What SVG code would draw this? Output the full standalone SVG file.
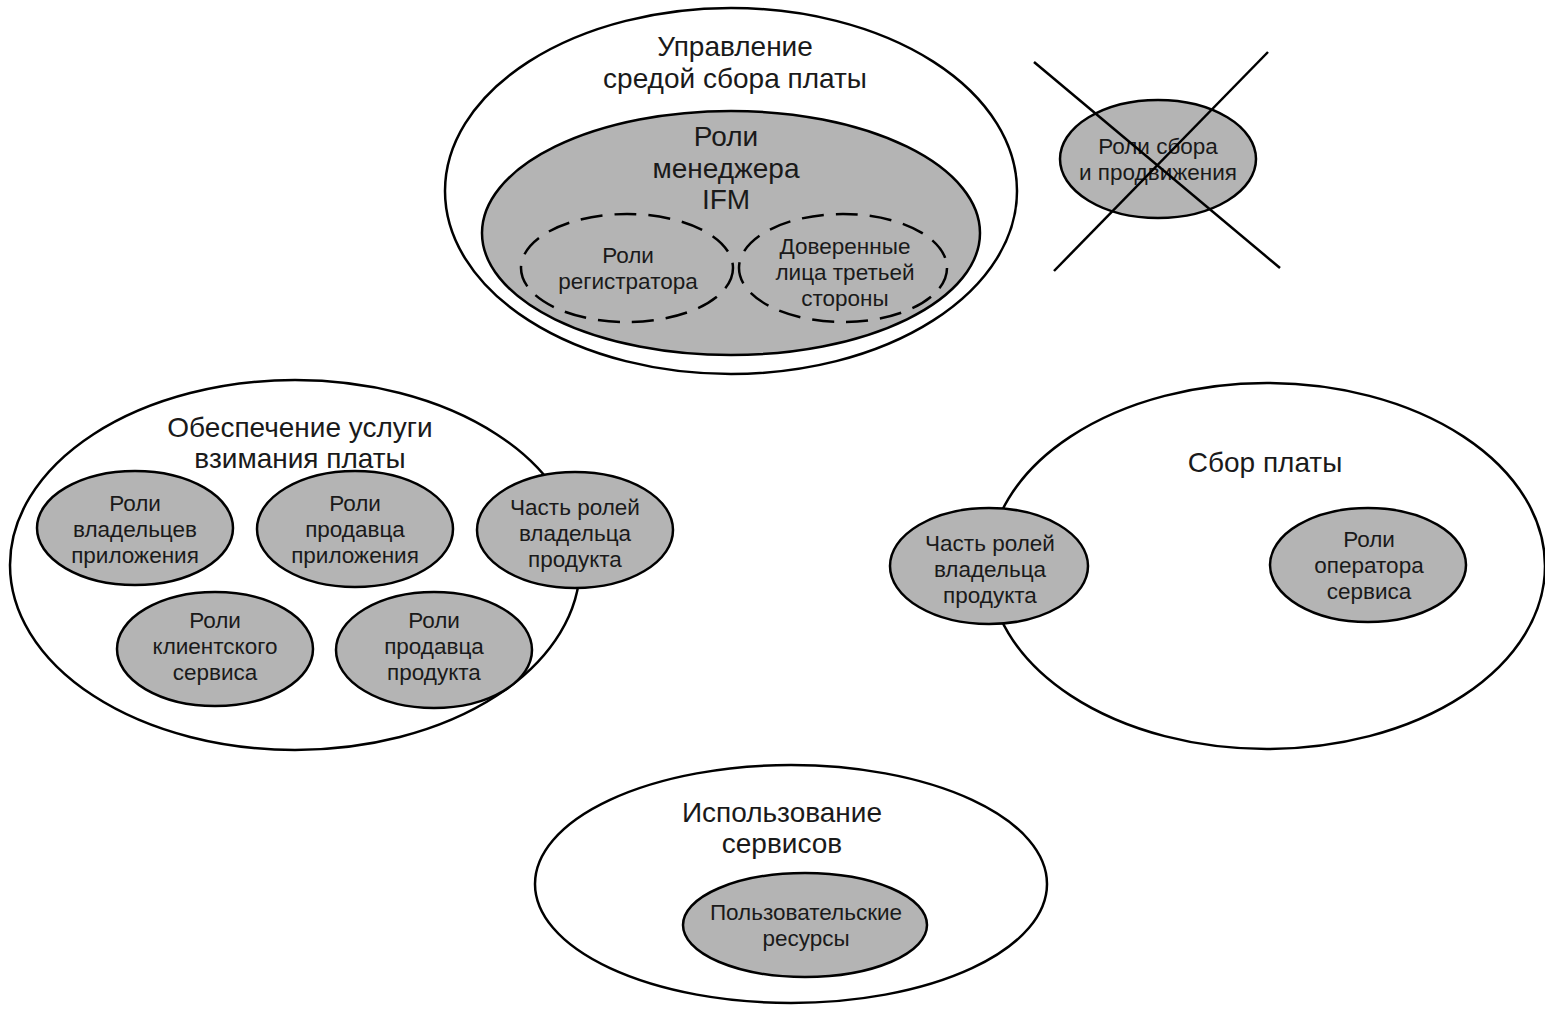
<svg xmlns="http://www.w3.org/2000/svg" width="1545" height="1015" viewBox="0 0 1545 1015">
<style>
.outer{fill:#fff;stroke:#000;stroke-width:2.5}
.role{fill:#b4b4b4;stroke:#000;stroke-width:2.5}
.dash{fill:none;stroke:#000;stroke-width:2.5;stroke-dasharray:22 12}
.t{font-family:"Liberation Sans",Arial,sans-serif;text-anchor:middle;fill:#1a1a1a}
.big{font-size:28px}
.sm{font-size:22.5px}
.cross{stroke:#000;stroke-width:2.5}
</style>
<rect width="1545" height="1015" fill="#fff"/>
<g id="mgmt">
<ellipse class="outer" cx="731" cy="191" rx="286" ry="183"/>
<text class="t big" x="735" y="56">Управление</text>
<text class="t big" x="735" y="88">средой сбора платы</text>
</g>
<g id="ifm">
<ellipse class="role" cx="731" cy="233" rx="249" ry="122"/>
<text class="t big" x="726" y="146">Роли</text>
<text class="t big" x="726" y="178">менеджера</text>
<text class="t big" x="726" y="209">IFM</text>
</g>
<g id="registrar">
<ellipse class="dash" cx="627" cy="268" rx="106" ry="54"/>
<text class="t sm" x="628" y="263">Роли</text>
<text class="t sm" x="628" y="289">регистратора</text>
</g>
<g id="trusted">
<ellipse class="dash" cx="843" cy="268" rx="104" ry="54"/>
<text class="t sm" x="845" y="254">Доверенные</text>
<text class="t sm" x="845" y="280">лица третьей</text>
<text class="t sm" x="845" y="306">стороны</text>
</g>
<g id="collect-promo">
<ellipse class="role" cx="1158" cy="159" rx="98" ry="59"/>
<text class="t sm" x="1158" y="154">Роли сбора</text>
<text class="t sm" x="1158" y="180">и продвижения</text>
</g>
<g id="provision">
<ellipse class="outer" cx="295" cy="565" rx="285" ry="185"/>
<text class="t big" x="300" y="437">Обеспечение услуги</text>
<text class="t big" x="300" y="468">взимания платы</text>
</g>
<g id="app-owners">
<ellipse class="role" cx="135" cy="528" rx="98" ry="57"/>
<text class="t sm" x="135" y="511">Роли</text>
<text class="t sm" x="135" y="537">владельцев</text>
<text class="t sm" x="135" y="563">приложения</text>
</g>
<g id="app-seller">
<ellipse class="role" cx="355" cy="529" rx="98" ry="58"/>
<text class="t sm" x="355" y="511">Роли</text>
<text class="t sm" x="355" y="537">продавца</text>
<text class="t sm" x="355" y="563">приложения</text>
</g>
<g id="product-owner-left">
<ellipse class="role" cx="575" cy="530" rx="98" ry="58"/>
<text class="t sm" x="575" y="515">Часть ролей</text>
<text class="t sm" x="575" y="541">владельца</text>
<text class="t sm" x="575" y="567">продукта</text>
</g>
<g id="client-service">
<ellipse class="role" cx="215" cy="649" rx="98" ry="57"/>
<text class="t sm" x="215" y="628">Роли</text>
<text class="t sm" x="215" y="654">клиентского</text>
<text class="t sm" x="215" y="680">сервиса</text>
</g>
<g id="product-seller">
<ellipse class="role" cx="434" cy="650" rx="98" ry="58"/>
<text class="t sm" x="434" y="628">Роли</text>
<text class="t sm" x="434" y="654">продавца</text>
<text class="t sm" x="434" y="680">продукта</text>
</g>
<g id="fee-collection">
<ellipse class="outer" cx="1267" cy="566" rx="278" ry="183"/>
<text class="t big" x="1265" y="472">Сбор платы</text>
</g>
<g id="product-owner-right">
<ellipse class="role" cx="989" cy="566" rx="99" ry="58"/>
<text class="t sm" x="990" y="551">Часть ролей</text>
<text class="t sm" x="990" y="577">владельца</text>
<text class="t sm" x="990" y="603">продукта</text>
</g>
<g id="service-operator">
<ellipse class="role" cx="1368" cy="565" rx="98" ry="57"/>
<text class="t sm" x="1369" y="547">Роли</text>
<text class="t sm" x="1369" y="573">оператора</text>
<text class="t sm" x="1369" y="599">сервиса</text>
</g>
<g id="service-use">
<ellipse class="outer" cx="791" cy="884" rx="256" ry="119"/>
<text class="t big" x="782" y="822">Использование</text>
<text class="t big" x="782" y="853">сервисов</text>
</g>
<g id="user-resources">
<ellipse class="role" cx="805" cy="925" rx="122" ry="52"/>
<text class="t sm" x="806" y="920">Пользовательские</text>
<text class="t sm" x="806" y="946">ресурсы</text>
</g>
<g id="connectors">
<line class="cross" x1="1034" y1="62" x2="1280" y2="268"/>
<line class="cross" x1="1268" y1="52" x2="1054" y2="271"/>
</g>
</svg>
